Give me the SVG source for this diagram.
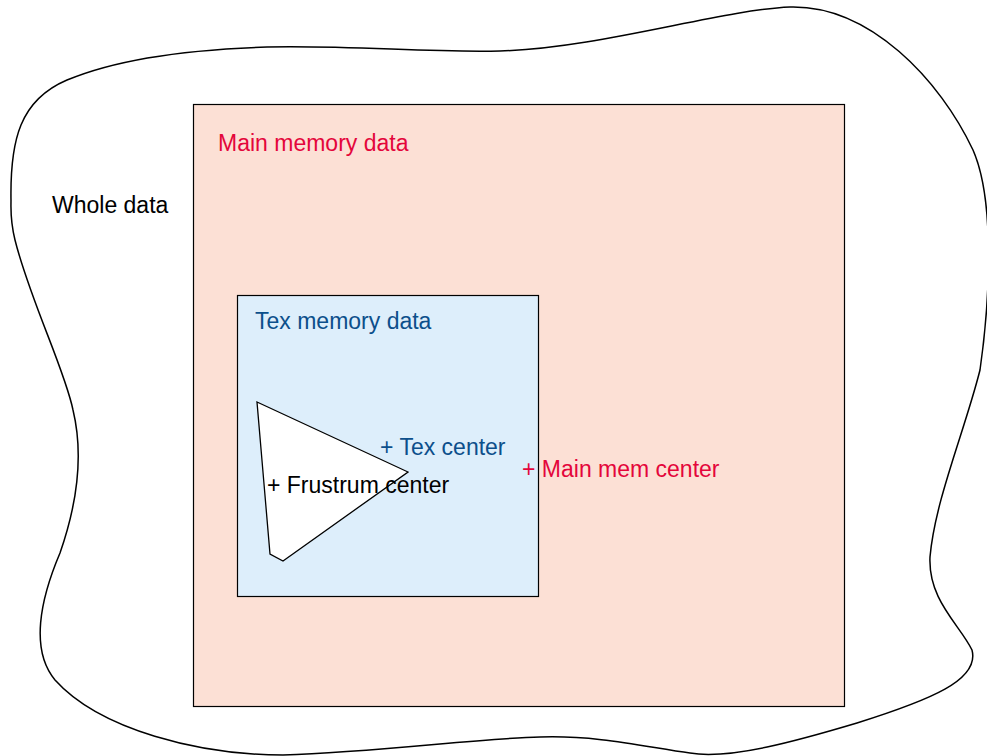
<svg xmlns="http://www.w3.org/2000/svg" width="987" height="756" viewBox="0 0 987 756">
<style>
text{font-family:"Liberation Sans",Arial,sans-serif;font-size:23px}
.box{stroke:#000;stroke-width:1.2}
.red{fill:#e4063b}
.blue{fill:#0c4f8b}
.blk{fill:#000}
</style>
<rect width="987" height="756" fill="#fff"/>
<g id="whole">
<path d="M 11,200 C 10,140 20,100 67,80 C 110,62 170,50 267,47 C 350,45 430,53 500,51 C 600,48 720,10 790,7 C 870,5 940,80 973,150 C 995,200 990,300 980,370 C 965,430 935,500 930,557 C 928,600 960,625 972,650 C 980,680 930,700 857,723 C 800,740 730,760 690,753 C 650,748 600,735 540,737 C 480,738 380,752 283,755 C 200,755 100,730 55,680 C 30,650 40,600 60,553 C 75,510 85,460 73,410 C 65,370 30,300 15,240 C 10,220 11,210 11,200 Z" fill="none" stroke="#000" stroke-width="1.5"/>
<text class="blk" x="52" y="213">Whole data</text>
</g>
<g id="main">
<rect class="box" x="193.5" y="104.5" width="651" height="602" fill="#fce0d5"/>
<text class="red" x="218" y="151">Main memory data</text>
</g>
<g id="tex">
<rect class="box" x="237.5" y="295.5" width="301" height="301" fill="#ddeefb"/>
<text class="blue" x="255" y="329">Tex memory data</text>
</g>
<g id="frustum">
<polygon points="257,402 408,472 283,561 270,554" fill="#fff" stroke="#000" stroke-width="1.3"/>
</g>
<g id="centers">
<text class="blue" x="380" y="455">+ Tex center</text>
<text class="blk" x="267" y="493">+ Frustrum center</text>
<text class="red" x="522" y="477">+ Main mem center</text>
</g>
<g id="connectors"/>
</svg>
